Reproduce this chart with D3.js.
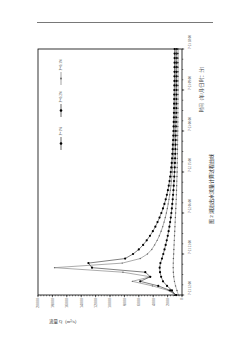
<!DOCTYPE html>
<html><head><meta charset="utf-8">
<script src="https://cdn.jsdelivr.net/npm/d3@7"></script>
<style>html,body{margin:0;padding:0;background:#fff;}svg{display:block}</style>
</head><body>
<svg id="c" width="250" height="354"></svg>
<script>
// ---- data (hourly steps) ----
const hours = d3.range(0, 55);
const seriesP1 = [970,1390,2080,2640,2900,3050,3100,3000,2780,2600,
  2430,2270,2120,1980,1860,1750,1650,1560,1480,1410,
  1350,1290,1240,1190,1150,1110,1070,1040,1010,980,
  960,940,920,900,880,870,860,850,840,830,
  820,810,800,790,780,770,760,760,750,750,
  740,740,730,730,730];
const seriesP02 = [800,1650,3300,5800,4400,5100,12500,13000,7900,6800,
  6000,5400,4900,4450,4050,3700,3400,3120,2870,2640,
  2440,2260,2100,1960,1840,1730,1640,1560,1490,1430,
  1380,1340,1300,1270,1240,1210,1190,1170,1150,1130,
  1120,1110,1100,1090,1080,1070,1060,1050,1050,1040,
  1040,1030,1030,1030,1020];
const seriesP01 = [900,1900,4100,6900,4400,8200,17700,8300,5800,4800,
  4200,3800,3450,3150,2900,2680,2490,2320,2170,2040,
  1920,1810,1710,1620,1540,1470,1410,1350,1300,1250,
  1210,1170,1140,1110,1080,1060,1040,1020,1000,990,
  980,970,960,950,940,930,920,910,900,900,
  890,890,880,880,880];
const seriesBase = [500,700,900,1050,1150,1200,1220,1210,1190,1160,
  1130,1100,1070,1040,1010,980,950,920,890,860,
  830,800,780,760,740,720,700,680,670,660,
  650,640,630,620,610,600,590,580,580,570,
  570,560,560,550,550,540,540,540,530,530,
  530,520,520,520,520];
const legendLabels = ["P=1%", "P=0.2%", "P=0.1%"];
const qTicks = [0,2000,4000,6000,8000,10000,12000,14000,16000,18000,20000];
const timeTickHours = [0,9,18,27,36,45,54];
const timeTickLabels = ["7-21 12:00","7-21 21:00","7-22 06:00","7-22 15:00","7-23 00:00","7-23 09:00","7-23 18:00"];
const qTitle = "流量 Q（m³/s）";
const timeTitle = "时间（年/月/日 时：分）";
const caption = "图 2  湖泊出水流量计算过程曲线";

// ---- layout ----
const svg = d3.select("#c");
const FONT = "'Liberation Serif','Noto Sans CJK SC',serif";
const W = 246, H = 144;
const x = d3.scaleLinear().domain([0, 54]).range([0, W]);
const y = d3.scaleLinear().domain([0, 20000]).range([H, 0]);

// page rule
svg.append("line").attr("x1", 37).attr("x2", 213).attr("y1", 22.5).attr("y2", 22.5)
  .attr("stroke", "#555").attr("stroke-width", 0.8);

const g = svg.append("g").attr("transform", "translate(38,295) rotate(-90)");

// frame
g.append("rect").attr("x", 0).attr("y", 0).attr("width", W).attr("height", H)
  .attr("fill", "none").attr("stroke", "#000").attr("stroke-width", 0.8);

// Q axis (left in chart coords)
g.append("g").selectAll("line").data(d3.range(0, 20001, 400)).join("line")
  .attr("x1", 0).attr("x2", -1.3).attr("y1", d => y(d)).attr("y2", d => y(d))
  .attr("stroke", "#000").attr("stroke-width", 0.5);
g.append("g").selectAll("line").data(qTicks).join("line")
  .attr("x1", 0).attr("x2", -2.2).attr("y1", d => y(d)).attr("y2", d => y(d))
  .attr("stroke", "#000").attr("stroke-width", 0.6);
g.append("g").selectAll("text").data(qTicks).join("text")
  .attr("x", -3).attr("y", d => y(d)).attr("dy", "0.35em")
  .attr("text-anchor", "end").attr("font-family", FONT).attr("font-size", 4)
  .attr("fill", "#444").text(d => d);

// time axis (bottom in chart coords)
g.append("g").selectAll("line").data(d3.range(0, 54.01, 2.25)).join("line")
  .attr("x1", d => x(d)).attr("x2", d => x(d)).attr("y1", H).attr("y2", H + 1.3)
  .attr("stroke", "#000").attr("stroke-width", 0.5);
g.append("g").selectAll("line").data(timeTickHours).join("line")
  .attr("x1", d => x(d)).attr("x2", d => x(d)).attr("y1", H).attr("y2", H + 2.2)
  .attr("stroke", "#000").attr("stroke-width", 0.6);
g.append("g").selectAll("text").data(timeTickHours).join("text")
  .attr("x", d => x(d)).attr("y", H + 8.5)
  .attr("text-anchor", "start").attr("font-family", FONT).attr("font-size", 3.2)
  .attr("fill", "#444").text((d, i) => timeTickLabels[i]);

// titles
g.append("text").attr("x", 207).attr("y", H + 21).attr("text-anchor", "middle")
  .attr("font-family", FONT).attr("font-size", 4.5).attr("fill", "#333").text(timeTitle);
g.append("text").attr("x", 106).attr("y", H + 31).attr("text-anchor", "middle")
  .attr("font-family", FONT).attr("font-size", 5)
  .attr("fill", "#222").text(caption);
svg.append("text").attr("x", 49).attr("y", 323).attr("font-family", FONT)
  .attr("font-size", 4.5).attr("fill", "#333").text(qTitle);

// series
const series = [
  {vals: seriesBase, stroke: "#888", sw: 0.6, mfill: "#555", r: 0.7},
  {vals: seriesP1, stroke: "#000", sw: 0.5, mfill: "#000", r: 1.1},
  {vals: seriesP01, stroke: "#888", sw: 0.7, mfill: "#666", r: 0.7},
  {vals: seriesP02, stroke: "#000", sw: 0.5, mfill: "#000", r: 1.1}
];
const line = d3.line().x((d, i) => x(hours[i])).y(d => y(d));
series.forEach(s => {
  g.append("path").datum(s.vals).attr("d", line).attr("fill", "none")
    .attr("stroke", s.stroke).attr("stroke-width", s.sw);
  g.append("g").selectAll("circle").data(s.vals).join("circle")
    .attr("cx", (d, i) => x(hours[i])).attr("cy", d => y(d)).attr("r", s.r)
    .attr("fill", s.mfill);
});

// legend
const legendStyles = [series[1], series[3], series[2]];
const legendX = [145, 178, 210];
legendLabels.forEach((lab, i) => {
  const s = legendStyles[i], lx = legendX[i];
  g.append("line").attr("x1", lx).attr("x2", lx + 13).attr("y1", 23).attr("y2", 23)
    .attr("stroke", s.stroke === "#888" ? "#666" : "#000").attr("stroke-width", 0.6);
  g.append("circle").attr("cx", lx + 6.5).attr("cy", 23).attr("r", s.r + 0.2).attr("fill", s.mfill);
  g.append("text").attr("x", lx + 14.5).attr("y", 23).attr("dy", "0.35em")
    .attr("font-family", FONT).attr("font-size", 3.6).attr("fill", "#333").text(lab);
});
</script>
</body></html>
